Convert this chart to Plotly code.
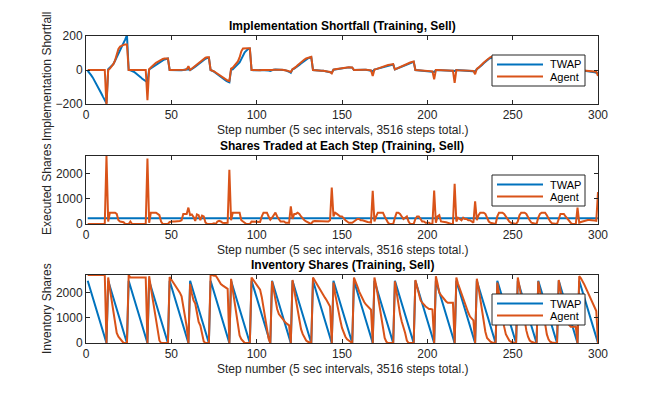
import plotly.graph_objects as go

TOTAL_SHARES = 2700
steps = list(range(1, 301))
x_ticks = [0, 50, 100, 150, 200, 250, 300]
series_names = ["TWAP", "Agent"]

# TWAP: shares sold at each of the 12 steps of every episode
twap_trades_episode = [225, 225, 225, 225, 225, 225, 225, 225, 225, 225, 225, 225]
n_episodes = 25

# Agent: shares sold at each step, one list per 12-step episode
agent_trades_by_episode = [
    [0, 0, 0, 0, 0, 0, 0, 0, 0, 0, 0, 2700],
    [100, 450, 450, 450, 450, 400, 150, 100, 80, 70, 0, 0],
    [0, 100, 0, 0, 0, 0, 0, 0, 0, 0, 0, 2600],
    [50, 450, 450, 450, 450, 400, 350, 100, 0, 0, 0, 0],
    [80, 100, 100, 100, 100, 100, 120, 150, 400, 400, 400, 650],
    [350, 380, 280, 120, 380, 350, 150, 330, 300, 60, 0, 0],
    [0, 0, 30, 0, 100, 130, 100, 50, 40, 50, 50, 2150],
    [150, 450, 450, 450, 450, 450, 150, 100, 50, 0, 0, 0],
    [100, 100, 100, 100, 100, 80, 300, 450, 450, 450, 300, 170],
    [250, 350, 450, 300, 200, 100, 100, 100, 50, 50, 50, 700],
    [200, 400, 400, 450, 400, 300, 200, 150, 100, 50, 30, 20],
    [100, 120, 120, 120, 120, 120, 100, 100, 100, 100, 150, 1450],
    [300, 450, 400, 350, 300, 300, 200, 150, 100, 50, 50, 50],
    [100, 150, 200, 200, 150, 150, 120, 100, 80, 70, 60, 1320],
    [100, 300, 450, 450, 450, 450, 300, 150, 50, 0, 0, 0],
    [250, 450, 450, 400, 300, 200, 250, 300, 100, 0, 0, 0],
    [200, 300, 300, 200, 100, 100, 50, 50, 50, 0, 20, 1330],
    [50, 300, 350, 100, 100, 80, 70, 50, 0, 0, 0, 1600],
    [100, 250, 200, 150, 250, 200, 200, 150, 150, 100, 50, 900],
    [150, 350, 450, 450, 450, 400, 250, 100, 50, 30, 20, 0],
    [300, 450, 450, 450, 400, 300, 150, 100, 50, 30, 20, 0],
    [100, 350, 450, 450, 450, 400, 250, 150, 50, 30, 20, 0],
    [250, 400, 450, 450, 450, 350, 200, 100, 30, 20, 0, 0],
    [200, 400, 400, 400, 300, 200, 100, 50, 0, 0, 0, 650],
    [50, 80, 100, 150, 150, 160, 160, 160, 150, 140, 130, 1270],
]

# Implementation shortfall per step, one list per episode
twap_is_by_episode = [
    [-5, -15, -30, -45, -62, -80, -98, -118, -138, -158, -178, -195],
    [5, 14, 24, 34, 54, 74, 94, 114, 134, 154, 180, 205],
    [0, -2, -5, -10, -18, -25, -33, -42, -52, -60, -68, -72],
    [3, 10, 18, 26, 33, 40, 46, 52, 57, 62, 65, 68],
    [0, -1, -2, -2, -3, -3, -2, -2, -1, 0, 2, 5],
    [0, 5, 12, 20, 28, 36, 44, 52, 60, 66, 70, 72],
    [0, -4, -10, -18, -26, -34, -42, -50, -57, -63, -68, -72],
    [2, 4, 14, 24, 34, 44, 64, 84, 104, 114, 124, 126],
    [0, -2, -3, -3, -2, 0, 0, 0, 0, -2, -3, -5],
    [0, 2, 3, 3, 3, 2, 1, 0, -2, -5, -10, -16],
    [4, 8, 14, 22, 30, 38, 46, 54, 62, 68, 72, 74],
    [0, 0, -1, -2, -3, -4, -5, -7, -9, -11, -14, -16],
    [2, 4, 6, 8, 10, 11, 12, 13, 14, 15, 15, 14],
    [0, 1, 2, 2, 3, 3, 2, 1, 0, -2, -4, -8],
    [2, 5, 8, 11, 14, 17, 20, 23, 26, 28, 30, 32],
    [3, 7, 11, 15, 19, 23, 27, 31, 35, 40, 45, 48],
    [0, -1, -2, -3, -4, -5, -6, -7, -8, -9, -10, -12],
    [0, 0, 0, 0, -1, -1, -2, -2, -3, -4, -5, -6],
    [0, -1, -2, -3, -3, -4, -4, -5, -5, -6, -6, -8],
    [5, 12, 20, 30, 40, 50, 58, 65, 70, 74, 76, 78],
    [3, 8, 14, 20, 26, 32, 36, 40, 42, 44, 45, 46],
    [-2, -5, -8, -12, -16, -20, -23, -26, -28, -30, -31, -32],
    [2, 5, 9, 13, 17, 21, 24, 27, 29, 30, 31, 32],
    [0, -2, -4, -6, -8, -10, -12, -13, -14, -15, -16, -17],
    [0, -1, -2, -3, -4, -5, -6, -8, -10, -13, -16, -20],
]

agent_is_by_episode = [
    [0, 0, 0, 0, 0, 0, 0, 0, 0, 0, 0, -210],
    [0, 8, 18, 34, 55, 84, 124, 138, 144, 148, 150, 150],
    [0, 0, 0, 0, 0, 0, 0, 0, 0, 0, 0, -178],
    [5, 15, 25, 35, 42, 48, 55, 60, 65, 68, 68, 68],
    [0, 0, 0, 0, 0, 0, 0, 0, 0, 2, 5, 22],
    [0, 8, 15, 22, 30, 40, 50, 58, 65, 72, 75, 75],
    [0, -3, -8, -15, -22, -30, -38, -45, -52, -58, -62, -65],
    [8, 14, 24, 34, 50, 74, 110, 126, 128, 128, 128, 128],
    [0, 0, -1, -2, -2, -1, 0, 0, 0, -1, -2, -3],
    [0, 2, 3, 4, 3, 2, 1, 0, -1, -4, -8, -12],
    [4, 10, 18, 28, 38, 46, 54, 62, 68, 72, 76, 78],
    [0, 0, -1, -2, -3, -4, -5, -6, -8, -10, -12, -20],
    [2, 4, 6, 9, 11, 12, 13, 14, 15, 16, 16, 15],
    [0, 1, 2, 2, 3, 3, 2, 1, 0, -1, -2, -35],
    [2, 5, 9, 13, 17, 21, 24, 27, 29, 31, 32, 35],
    [3, 8, 13, 18, 23, 28, 32, 36, 40, 44, 48, 50],
    [0, -1, -2, -3, -3, -4, -5, -6, -6, -7, -8, -55],
    [0, 0, 0, 0, 0, -1, -1, -2, -2, -3, -4, -75],
    [0, -1, -1, -2, -2, -3, -3, -4, -4, -5, -5, -25],
    [7, 14, 22, 32, 43, 52, 62, 72, 76, 78, 80, 80],
    [4, 10, 17, 24, 30, 35, 39, 42, 44, 45, 46, 46],
    [-3, -7, -11, -15, -19, -22, -24, -26, -27, -28, -28, -28],
    [3, 7, 12, 16, 20, 23, 26, 28, 29, 30, 30, 30],
    [0, -2, -4, -6, -8, -9, -10, -11, -12, -12, -13, -25],
    [0, -1, -2, -3, -4, -5, -6, -7, -8, -9, -10, -35],
]

# ---- assemble per-step series ----
def flatten(eps):
    return [v for ep in eps for v in ep]

def inventory(eps):
    out = []
    for ep in eps:
        rem = TOTAL_SHARES
        for t in ep:
            rem -= t
            out.append(rem)
    return out

twap_by_episode = [twap_trades_episode for _ in range(n_episodes)]
twap_trades = flatten(twap_by_episode)
agent_trades = flatten(agent_trades_by_episode)
twap_inv = inventory(twap_by_episode)
agent_inv = inventory(agent_trades_by_episode)
twap_is = flatten(twap_is_by_episode)
agent_is = flatten(agent_is_by_episode)

BLUE = "#0072BD"
ORANGE = "#D95319"
COLORS = [BLUE, ORANGE]
FONT = "Liberation Sans, Arial, Helvetica, sans-serif"
TXT = "#262626"
PAGE_MARGIN = 8          # default body margin of the html page
W, H = 661 - 2 * PAGE_MARGIN, 398 - 2 * PAGE_MARGIN

fig = go.Figure()
panels = [
    (twap_is, agent_is, "x", "y"),
    (twap_trades, agent_trades, "x2", "y2"),
    (twap_inv, agent_inv, "x3", "y3"),
]
for tw, ag, xa, ya in panels:
    for name, vals, col in zip(series_names, [tw, ag], COLORS):
        fig.add_trace(go.Scatter(x=steps, y=vals, mode="lines", name=name,
                                 line=dict(color=col, width=2), xaxis=xa, yaxis=ya,
                                 showlegend=False))

def px_x(p):
    return (p - PAGE_MARGIN) / W

def px_y(p):
    return 1 - (p - PAGE_MARGIN) / H

xdom = [px_x(86), px_x(598)]
panel_px = [(36, 104), (156, 224), (275, 343)]

axis_common = dict(showline=True, linecolor=TXT, linewidth=1, mirror="ticks",
                   ticks="inside", ticklen=4, tickcolor=TXT, showgrid=False,
                   zeroline=False, automargin=False,
                   tickfont=dict(family=FONT, size=12, color=TXT))

yranges = [[-200, 200], [0, 2700], [0, 2700]]
yticks = [[-200, 0, 200], [0, 1000, 2000], [0, 1000, 2000]]
layout_axes = {}
for i, ((top, bot), yr, yt) in enumerate(zip(panel_px, yranges, yticks)):
    sfx = "" if i == 0 else str(i + 1)
    layout_axes["xaxis" + sfx] = dict(axis_common, domain=xdom, range=[0, 300],
                                      tickvals=x_ticks, anchor="y" + sfx)
    layout_axes["yaxis" + sfx] = dict(axis_common, domain=[px_y(bot), px_y(top)],
                                      range=yr, tickvals=yt, anchor="x" + sfx)

titles = ["Implementation Shortfall (Training, Sell)",
          "Shares Traded at Each Step (Training, Sell)",
          "Inventory Shares (Training, Sell)"]
ylabels = ["Implementation Shortfall", "Executed Shares", "Inventory Shares"]
ylabel_centers = [77, 190, 309]
xlabel = "Step number (5 sec intervals, 3516 steps total.)"

annotations = []
shapes = []
legend_tops = [55, 175, 294]
for i, (top, bot) in enumerate(panel_px):
    annotations.append(dict(text="<b>" + titles[i] + "</b>", x=px_x(342), y=px_y(top - 10),
                            xref="paper", yref="paper", xanchor="center", yanchor="middle",
                            showarrow=False, font=dict(family=FONT, size=12, color="black")))
    annotations.append(dict(text=xlabel, x=px_x(342), y=px_y(bot + 26),
                            xref="paper", yref="paper", xanchor="center", yanchor="middle",
                            showarrow=False, font=dict(family=FONT, size=12, color=TXT)))
    annotations.append(dict(text=ylabels[i], x=px_x(47), y=px_y(ylabel_centers[i]),
                            xref="paper", yref="paper", xanchor="center", yanchor="middle",
                            textangle=-90, showarrow=False,
                            font=dict(family=FONT, size=12, color=TXT)))
    # legend box (MATLAB style, opaque white with dark border)
    lt = legend_tops[i]
    shapes.append(dict(type="rect", xref="paper", yref="paper", layer="above",
                       x0=px_x(492), x1=px_x(585), y0=px_y(lt + 31), y1=px_y(lt),
                       fillcolor="white", line=dict(color=TXT, width=1)))
    for j, (name, col) in enumerate(zip(series_names, COLORS)):
        yy = lt + 9.5 + 12 * j
        shapes.append(dict(type="line", xref="paper", yref="paper", layer="above",
                           x0=px_x(497), x1=px_x(543), y0=px_y(yy), y1=px_y(yy),
                           line=dict(color=col, width=2)))
        annotations.append(dict(text=name, x=px_x(548), y=px_y(yy), xref="paper",
                                yref="paper", xanchor="left", yanchor="middle",
                                showarrow=False,
                                font=dict(family=FONT, size=11, color="black")))

fig.update_layout(
    template="none",
    width=W, height=H, autosize=False,
    margin=dict(l=0, r=0, t=0, b=0, pad=0),
    paper_bgcolor="white", plot_bgcolor="white",
    font=dict(family=FONT, size=12, color=TXT),
    showlegend=False,
    annotations=annotations,
    shapes=shapes,
    **layout_axes,
)

fig.write_html("out.html")
